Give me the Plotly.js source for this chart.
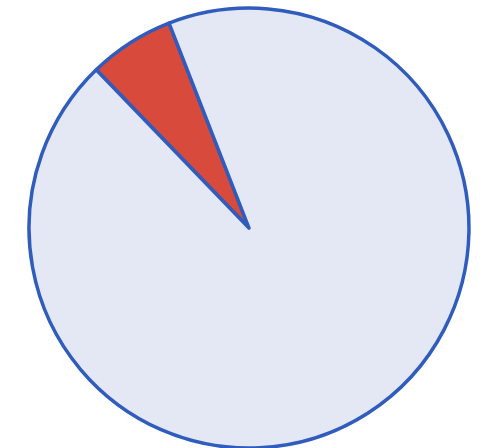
<!DOCTYPE html>
<html>
<head>
<meta charset="utf-8">
<script src="https://cdn.plot.ly/plotly-3.0.1.min.js"></script>
<style>html,body{margin:0;padding:0;background:#fff;}#chart{width:498px;height:448px;}</style>
</head>
<body>
<div id="chart"></div>
<script>
var labels = ["Share A", "Share B"];
var values = [6.3, 93.7];
var colors = ["#d84a3b", "#e4e8f5"];

Plotly.newPlot("chart", [{
  type: "pie",
  labels: labels,
  values: values,
  sort: false,
  direction: "clockwise",
  rotation: -44,
  textinfo: "none",
  hoverinfo: "label+percent",
  marker: {colors: colors, line: {color: "#2f5cbd", width: 3.5}},
  domain: {x: [0.058, 0.942], y: [0.0, 0.982]}
}], {
  width: 498, height: 448,
  margin: {l: 0, r: 0, t: 0, b: 0},
  showlegend: false,
  paper_bgcolor: "#ffffff"
}, {displayModeBar: false, staticPlot: true});
</script>
</body>
</html>
